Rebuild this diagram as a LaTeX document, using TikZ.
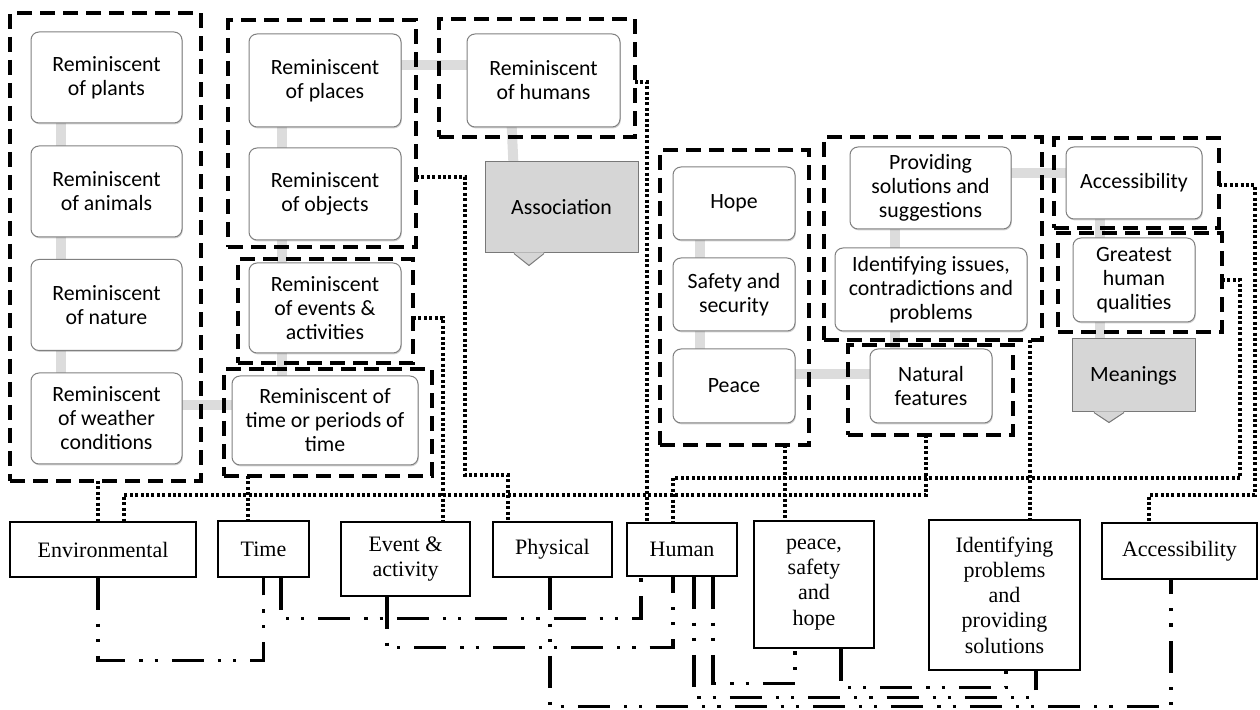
\documentclass[tikz,border=0pt]{standalone}
\usepackage{fontspec}
\setmainfont{Liberation Serif}
\newfontfamily\calib{Carlito}
\usetikzlibrary{backgrounds,shadows}
\definecolor{boxedge}{RGB}{128,128,128}
\definecolor{linkgray}{RGB}{220,220,220}
\definecolor{callfill}{RGB}{214,214,214}
\definecolor{calledge}{RGB}{120,120,120}

\tikzset{
  rbox/.style={draw=boxedge, fill=white, rounded corners=4pt, line width=0.5pt,
    align=center, inner sep=1pt, font=\calib\fontsize{10.9}{12}\selectfont,
    drop shadow={shadow xshift=0.4pt, shadow yshift=-0.7pt, opacity=0.3, fill=black!60}},
  cbox/.style={draw=calledge, fill=callfill, line width=0.5pt, align=center,
    inner sep=1pt, font=\calib\fontsize{10.9}{12}\selectfont},
  grpbox/.style={draw=black, line width=2pt, dash pattern=on 7.5pt off 4pt,
    inner sep=0pt, outer sep=0pt},
  catbox/.style={draw=black, line width=0.6pt, fill=white, align=center,
    inner sep=1pt, font=\fontsize{11}{12.65}\selectfont},
  graylink/.style={draw=linkgray, line width=5pt},
  dotline/.style={line width=1.8pt, dash pattern=on 1.5pt off 1.2pt},
  ddline/.style={line width=1.7pt, dash pattern=on 16pt off 7pt on 1.6pt off 6pt on 1.6pt off 7pt}
}

\begin{document}
\begin{tikzpicture}[x=0.5pt, y=-0.5pt]
\useasboundingbox (0,0) rectangle (1260,710);

% Environment column
\node[rbox, minimum width=75.5pt, minimum height=45.5pt] (plants) at (106.5,77.5) {Reminiscent\\of plants};
\node[rbox, minimum width=75.5pt, minimum height=45.5pt] (animals) at (106.5,191.5) {Reminiscent\\of animals};
\node[rbox, minimum width=75.5pt, minimum height=45.5pt] (nature) at (106.5,305) {Reminiscent\\of nature};
\node[rbox, minimum width=75.5pt, minimum height=45.5pt] (weather) at (106.5,418.5) {Reminiscent\\of weather\\conditions};

% Places, objects, events, time
\node[rbox, minimum width=76pt, minimum height=46.5pt] (places) at (325,80.5) {Reminiscent\\of places};
\node[rbox, minimum width=76pt, minimum height=46pt] (objects) at (325,194) {Reminiscent\\of objects};
\node[rbox, minimum width=76pt, minimum height=45pt] (events) at (325,308) {Reminiscent\\of events \&\\activities};
\node[rbox, minimum width=93pt, minimum height=44.5pt] (periods) at (325,420.5) {Reminiscent of\\time or periods of\\time};

% Humans and association
\node[rbox, minimum width=76.5pt, minimum height=46.5pt] (humans) at (543.5,80.5) {Reminiscent\\of humans};
\node[cbox, minimum width=76.5pt, minimum height=45.5pt] (assoc) at (561.5,207.5) {Association};
\fill[callfill] ([xshift=-23.75pt,yshift=0.6pt]assoc.south) -- ([xshift=-16.25pt,yshift=-6pt]assoc.south) -- ([xshift=-8.75pt,yshift=0.6pt]assoc.south) -- cycle;
\draw[calledge, line width=0.5pt] ([xshift=-23.75pt]assoc.south) -- ([xshift=-16.25pt,yshift=-6pt]assoc.south) -- ([xshift=-8.75pt]assoc.south);

% Meanings side
\node[rbox, minimum width=61pt, minimum height=36.5pt] (hope) at (734,203.5) {Hope};
\node[rbox, minimum width=61pt, minimum height=36.5pt] (safety) at (734,294.5) {Safety and\\security};
\node[rbox, minimum width=61pt, minimum height=37pt] (peace) at (734,386) {Peace};
\node[rbox, minimum width=80.5pt, minimum height=41pt] (solutions) at (930.5,188) {Providing\\solutions and\\suggestions};
\node[rbox, minimum width=96pt, minimum height=41.5pt] (issues) at (931,289.5) {Identifying issues,\\contradictions and\\problems};
\node[rbox, minimum width=61pt, minimum height=37pt] (natural) at (931,386) {Natural\\features};
\node[rbox, minimum width=68pt, minimum height=36pt] (access) at (1134,183) {Accessibility};
\node[rbox, minimum width=61pt, minimum height=42pt] (qualities) at (1134,280) {Greatest\\human\\qualities};
\node[cbox, minimum width=61.5pt, minimum height=36.5pt] (meanings) at (1133.5,375.5) {Meanings};
\fill[callfill] ([xshift=-19.75pt,yshift=0.6pt]meanings.south) -- ([xshift=-12.25pt,yshift=-5pt]meanings.south) -- ([xshift=-4.75pt,yshift=0.6pt]meanings.south) -- cycle;
\draw[calledge, line width=0.5pt] ([xshift=-19.75pt]meanings.south) -- ([xshift=-12.25pt,yshift=-5pt]meanings.south) -- ([xshift=-4.75pt]meanings.south);

% light links behind the boxes
\begin{scope}[on background layer]
\draw[graylink] ([xshift=15pt]plants.west) -- ([xshift=15pt]animals.west);
\draw[graylink] ([xshift=15pt]animals.west) -- ([xshift=15pt]nature.west);
\draw[graylink] ([xshift=15pt]nature.west) -- ([xshift=15pt]weather.west);
\draw[graylink] ([yshift=6.75pt]weather.center) -- ([yshift=6.75pt]weather.center -| periods.center);
\draw[graylink] ([xshift=16.5pt]places.west) -- ([xshift=16.5pt]objects.west);
\draw[graylink] ([xshift=16.5pt]objects.west) -- ([xshift=16.5pt]events.west);
\draw[graylink] ([xshift=16.5pt]events.west) -- ([xshift=16.5pt]events.west |- periods.center);
\draw[graylink] ([yshift=7.75pt]places.center) -- ([yshift=7.75pt]places.center -| humans.center);
\draw[graylink] ([xshift=21.5pt]humans.west) -- ([xshift=15.5pt]assoc.west);
\draw[graylink] ([xshift=13.5pt]hope.west) -- ([xshift=13.5pt]safety.west);
\draw[graylink] ([xshift=13.5pt]safety.west) -- ([xshift=13.5pt]peace.west);
\draw[graylink] ([yshift=6pt]peace.center) -- ([yshift=6pt]peace.center -| natural.center);
\draw[graylink] ([xshift=22.5pt]solutions.west) -- ([xshift=22.5pt]solutions.west |- issues.center);
\draw[graylink] ([xshift=22.5pt]solutions.west |- issues.center) -- ([xshift=22.5pt]solutions.west |- natural.center);
\draw[graylink] ([yshift=7.5pt]solutions.center) -- ([yshift=7.5pt]solutions.center -| access.center);
\draw[graylink] ([xshift=17pt]access.west) -- ([xshift=17pt]access.west |- qualities.center);
\draw[graylink] ([xshift=17pt]access.west |- qualities.center) -- ([xshift=17pt]access.west |- meanings.center);
\end{scope}

% dashed groups
\node[grpbox, minimum width=95.5pt, minimum height=234pt] (gEnv) at (105.5,247) {};
\node[grpbox, minimum width=94pt, minimum height=113.5pt] (gPlace) at (322,133.5) {};
\node[grpbox, minimum width=87.5pt, minimum height=52pt] (gEvent) at (325.5,311) {};
\node[grpbox, minimum width=104pt, minimum height=53.5pt] (gPeriod) at (328,422.5) {};
\node[grpbox, minimum width=98pt, minimum height=59pt] (gHuman) at (537,78) {};
\node[grpbox, minimum width=74.5pt, minimum height=147.5pt] (gPeace) at (734.5,297.5) {};
\node[grpbox, minimum width=109pt, minimum height=101.5pt] (gIssue) at (933,238.5) {};
\node[grpbox, minimum width=82.5pt, minimum height=45pt] (gNatural) at (930.5,390) {};
\node[grpbox, minimum width=82.5pt, minimum height=45pt] (gAccess) at (1136.5,183) {};
\node[grpbox, minimum width=82pt, minimum height=49.5pt] (gQuality) at (1140,282.5) {};

% categories
\node[catbox, minimum width=93pt, minimum height=27.5pt] (cEnv) at (103,549.5) {Environmental};
\node[catbox, minimum width=45.5pt, minimum height=28pt] (cTime) at (263.5,549) {Time};
\node[catbox, minimum width=64.5pt, minimum height=37pt] (cEvent) at (405.5,559) {Event \&\\activity};
\node[catbox, minimum width=59.5pt, minimum height=27.5pt] (cPhys) at (552.5,549.5) {Physical};
\node[catbox, minimum width=55pt, minimum height=26.5pt] (cHuman) at (682,549.5) {Human};
\node[catbox, minimum width=60pt, minimum height=63.5pt] (cPeace) at (814,584.5) {peace,\\safety\\and\\hope};
\node[catbox, minimum width=75.5pt, minimum height=75pt] (cProb) at (1004.5,595) {Identifying\\problems\\and\\providing\\solutions};
\node[catbox, minimum width=77.5pt, minimum height=28pt] (cAccess) at (1179.5,551) {Accessibility};

% dotted: groups to categories
\draw[dotline] ([xshift=-2.5pt]cEnv.north |- gEnv.south) -- ([xshift=-2.5pt]cEnv.north);
\draw[dotline] ([xshift=-2.25pt]gNatural.south) -- ++(0,60) -| ([xshift=10.5pt]cEnv.north);
\draw[dotline] ([xshift=-7.75pt]cTime.north |- gPeriod.south) -- ([xshift=-7.75pt]cTime.north);
\draw[dotline] ([yshift=-3.5pt]gEvent.east) -| ([xshift=18.75pt]cEvent.north);
\draw[dotline] ([yshift=-21.75pt]gPlace.east) -- ++(49,0) -- ++(0,298) -| ([xshift=-22.25pt]cPhys.north);
\draw[dotline] ([yshift=-2pt]gHuman.east) -| ([xshift=-17.5pt]cHuman.north);
\draw[dotline] ([yshift=1.25pt]gQuality.east) -- ++(18,0) -- ++(0,198) -| ([xshift=-4.5pt]cHuman.north);
\draw[dotline] ([xshift=-14.5pt]cPeace.north |- gPeace.south) -- ([xshift=-14.5pt]cPeace.north);
\draw[dotline] ([xshift=12.75pt]cProb.north |- gIssue.south) -- ([xshift=12.75pt]cProb.north);
\draw[dotline] ([yshift=-1pt]gAccess.east) -- ++(36,0) -- ++(0,310) -| ([xshift=-15.25pt]cAccess.north);

% dash-dot: links between categories
\draw[ddline] ([xshift=-2.5pt]cEnv.south) -- ++(0,83) -| (cTime.south);
\draw[ddline] ([xshift=8.75pt]cTime.south) -- ++(0,41) -| ([xshift=-20.5pt]cHuman.south);
\draw[ddline] ([xshift=-9.25pt]cEvent.south) -- ++(0,51) -| ([xshift=-4.5pt]cHuman.south);
\draw[ddline] ([xshift=-1.25pt]cPhys.south) -- ++(0,129) -| ([xshift=-4.25pt]cAccess.south);
\draw[ddline] ([xshift=6pt]cHuman.south) -- ++(0,121) -| ([xshift=15.75pt]cProb.south);
\draw[ddline] ([xshift=15.5pt]cHuman.south) -- ++(0,107) -| ([xshift=-9.5pt]cPeace.south);
\draw[ddline] ([xshift=13.5pt]cPeace.south) -- ++(0,39) -| ([xshift=0.75pt]cProb.south);
\end{tikzpicture}
\end{document}
